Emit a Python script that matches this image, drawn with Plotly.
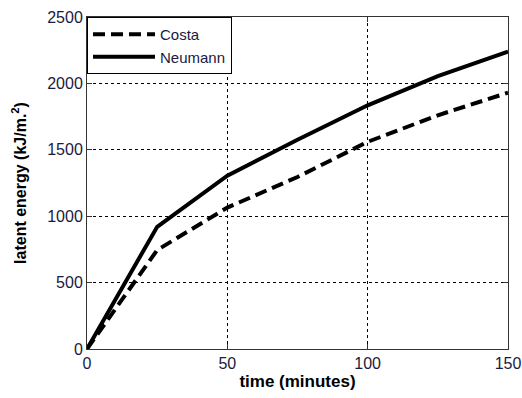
import plotly.graph_objects as go

time_min = [0, 25, 50, 75, 100, 125, 150]
costa = [0, 745, 1065, 1295, 1560, 1760, 1930]
neumann = [0, 920, 1305, 1575, 1835, 2055, 2240]

x_ticks = [0, 50, 100, 150]
y_ticks = [0, 500, 1000, 1500, 2000, 2500]

fig = go.Figure()
fig.add_trace(go.Scatter(x=time_min, y=costa, mode="lines", name="Costa",
                         line=dict(color="black", width=4, dash="12px,6px")))
fig.add_trace(go.Scatter(x=time_min, y=neumann, mode="lines", name="Neumann",
                         line=dict(color="black", width=4)))

axis_common = dict(showline=True, linecolor="#333", linewidth=1, mirror="ticks",
                   ticks="inside", ticklen=5, tickcolor="#333", automargin=False,
                   showgrid=True, gridcolor="black", gridwidth=1, griddash="3px,3px",
                   zeroline=False, tickfont=dict(family="Arial, Liberation Sans", size=16, color="#1a1a40"))

fig.update_xaxes(range=[0, 150], tickvals=x_ticks, **axis_common,
                 title=dict(text="<b>time (minutes)</b>", font=dict(family="Arial, Liberation Sans", size=17, color="black"), standoff=2))
fig.update_yaxes(range=[0, 2500], tickvals=y_ticks, **axis_common,
                 title=dict(text="<b>latent energy (kJ/m.<sup>2</sup>)</b>", font=dict(family="Arial, Liberation Sans", size=16, color="black"), standoff=16))

fig.update_layout(width=522, height=398, margin=dict(l=87, r=14, t=17, b=49),
                  paper_bgcolor="white", plot_bgcolor="white", showlegend=True,
                  legend=dict(x=0, y=1, xanchor="left", yanchor="top", bgcolor="white",
                              bordercolor="black", borderwidth=1,
                              font=dict(family="Arial, Liberation Sans", size=15, color="#1a1a40"),
                              tracegroupgap=0, itemwidth=62))
fig.write_html("out.html", config={"displayModeBar": False},
               post_script="document.body.style.margin='0';document.body.style.padding='0';")
